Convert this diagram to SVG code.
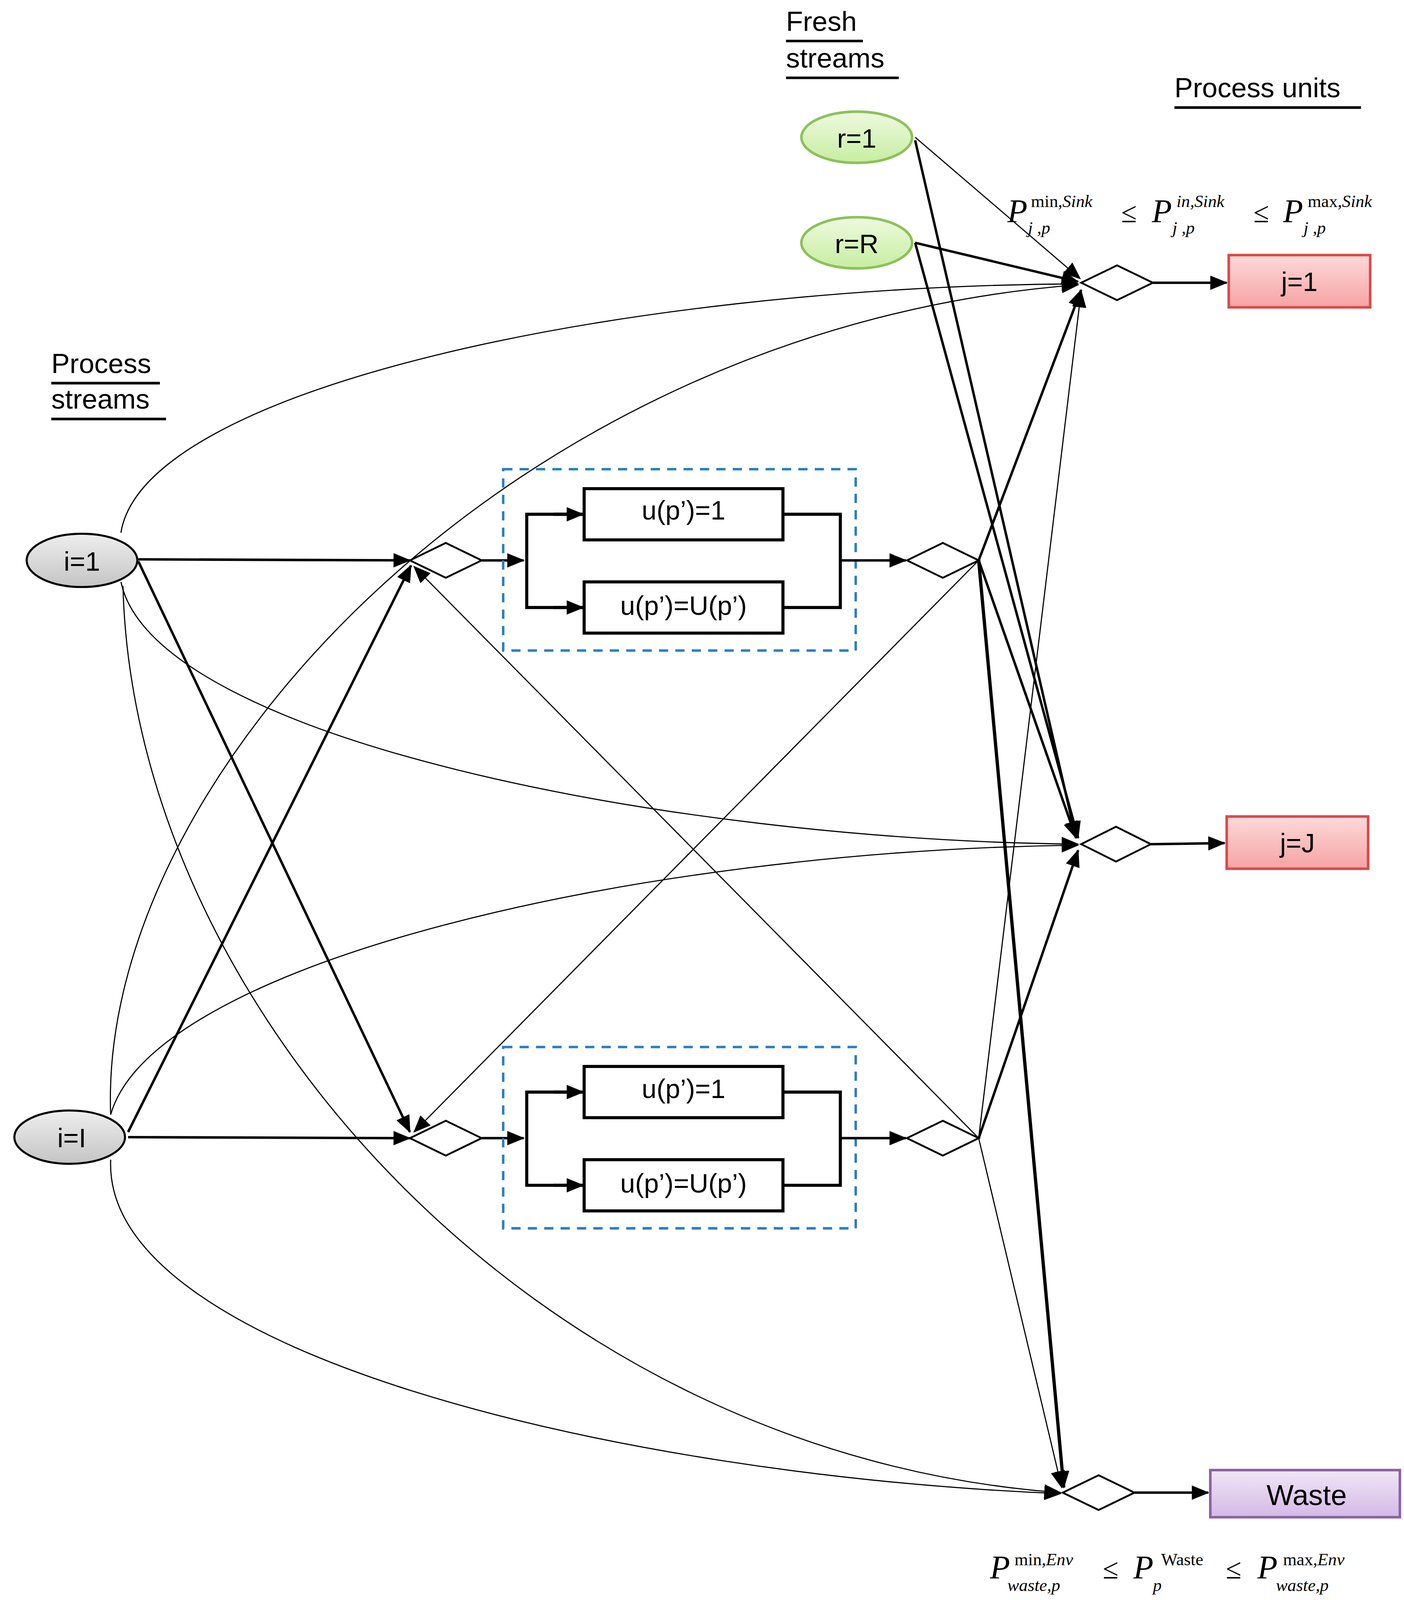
<svg xmlns="http://www.w3.org/2000/svg" width="3593" height="4110" viewBox="0 0 3593 4110">
<style>
.lbl{font-family:"Liberation Sans",Arial,sans-serif;font-size:26px;fill:#000}
.hd{font-family:"Liberation Sans",Arial,sans-serif;font-size:27px;fill:#000}
.m{font-family:"Liberation Serif","Times New Roman",serif;font-style:italic;fill:#000}
.mr{font-family:"Liberation Serif","Times New Roman",serif;fill:#000}
.thin{fill:none;stroke:#000;stroke-width:1.1}
.thick{fill:none;stroke:#000;stroke-width:2.4}
.dia{fill:#fff;stroke:#000;stroke-width:1.8}
.box{fill:#fff;stroke:#000;stroke-width:3}
.wire{fill:none;stroke:#000;stroke-width:3}
.dash{fill:none;stroke:#2a7fc1;stroke-width:2.4;stroke-dasharray:9,7}
.ul{stroke:#000;stroke-width:2.5}
</style>
<defs>
<marker id="ar" markerUnits="userSpaceOnUse" markerWidth="18" markerHeight="16" refX="16" refY="7" orient="auto"><path d="M0,0 L17,7 L0,14 Z" fill="#000"/></marker>
<linearGradient id="gG" x1="0" y1="0" x2="0" y2="1"><stop offset="0" stop-color="#eefadf"/><stop offset="1" stop-color="#c6eda0"/></linearGradient>
<linearGradient id="gR" x1="0" y1="0" x2="0" y2="1"><stop offset="0" stop-color="#fdd9d9"/><stop offset="1" stop-color="#f6a3a3"/></linearGradient>
<linearGradient id="gP" x1="0" y1="0" x2="0" y2="1"><stop offset="0" stop-color="#f1e6f7"/><stop offset="1" stop-color="#d3b9e6"/></linearGradient>
<linearGradient id="gS" x1="0" y1="0" x2="0" y2="1"><stop offset="0" stop-color="#eeeeee"/><stop offset="1" stop-color="#c4c4c4"/></linearGradient>
</defs>
<rect width="3593" height="4110" fill="#fff"/>
<g transform="scale(2.6226)">
<g id="headings">
<text class="hd" x="767" y="30">Fresh</text><line class="ul" x1="767" y1="40" x2="842" y2="40"/>
<text class="hd" x="767" y="66">streams</text><line class="ul" x1="767" y1="76" x2="877" y2="76"/>
<text class="hd" x="1146" y="95">Process units</text><line class="ul" x1="1146" y1="105" x2="1328" y2="105"/>
<text class="hd" x="50" y="364">Process</text><line class="ul" x1="50" y1="374" x2="156" y2="374"/>
<text class="hd" x="50" y="399">streams</text><line class="ul" x1="50" y1="409" x2="162" y2="409"/>
</g>
<g id="connectors">
<!-- fresh streams -->
<line class="thin" x1="893" y1="134" x2="1054" y2="272" marker-end="url(#ar)"/>
<line class="thick" x1="893" y1="137" x2="1050" y2="818" marker-end="url(#ar)"/>
<line class="thick" x1="893" y1="237" x2="1052" y2="275" marker-end="url(#ar)"/>
<line class="thick" x1="893" y1="237" x2="1052" y2="818" marker-end="url(#ar)"/>
<!-- i=1 -->
<line class="thick" x1="135" y1="546" x2="400" y2="547" marker-end="url(#ar)"/>
<path class="thin" d="M118,520 C140,380 600,280 1052,277" marker-end="url(#ar)"/>
<path class="thin" d="M118,568 C150,720 650,820 1052,824" marker-end="url(#ar)"/>
<path class="thin" d="M120,572 C130,980 520,1420 1035,1457" marker-end="url(#ar)"/>
<line class="thick" x1="135" y1="548" x2="400" y2="1105" marker-end="url(#ar)"/>
<!-- i=I -->
<line class="thick" x1="125" y1="1110" x2="400" y2="1111" marker-end="url(#ar)"/>
<path class="thin" d="M108,1088 C95,760 500,320 1052,278" marker-end="url(#ar)"/>
<path class="thin" d="M108,1088 C150,940 620,830 1052,825" marker-end="url(#ar)"/>
<path class="thin" d="M108,1132 C100,1320 600,1440 1035,1458" marker-end="url(#ar)"/>
<line class="thick" x1="125" y1="1105" x2="401" y2="552" marker-end="url(#ar)"/>
<!-- cross -->
<line class="thin" x1="955" y1="547" x2="404" y2="1105" marker-end="url(#ar)"/>
<line class="thin" x1="955" y1="1111" x2="404" y2="553" marker-end="url(#ar)"/>
<!-- from process units -->
<line class="thick" x1="955" y1="547" x2="1055" y2="283" marker-end="url(#ar)"/>
<line class="thick" x1="955" y1="547" x2="1050" y2="818" marker-end="url(#ar)"/>
<line class="thick" x1="955" y1="547" x2="1038" y2="1452" marker-end="url(#ar)" style="stroke-width:3.2"/>
<line class="thin" x1="955" y1="1111" x2="1055" y2="284" marker-end="url(#ar)"/>
<line class="thick" x1="955" y1="1111" x2="1052" y2="830" marker-end="url(#ar)"/>
<line class="thin" x1="955" y1="1111" x2="1036" y2="1452" marker-end="url(#ar)"/>
<!-- mixer outputs -->
<line class="thick" x1="1125" y1="276" x2="1197" y2="276" marker-end="url(#ar)"/>
<line class="thick" x1="1123" y1="824" x2="1195" y2="823" marker-end="url(#ar)"/>
<line class="thick" x1="1107" y1="1457" x2="1179" y2="1457" marker-end="url(#ar)"/>
</g>
<g id="r1"><ellipse cx="836" cy="134" rx="54" ry="25" fill="url(#gG)" stroke="#8cc15a" stroke-width="2.5"/><text class="lbl" x="836" y="144" text-anchor="middle">r=1</text></g>
<g id="rR"><ellipse cx="836" cy="237" rx="54" ry="25" fill="url(#gG)" stroke="#8cc15a" stroke-width="2.5"/><text class="lbl" x="836" y="247" text-anchor="middle">r=R</text></g>
<g id="i1"><ellipse cx="80" cy="547" rx="54" ry="26" fill="url(#gS)" stroke="#000" stroke-width="2"/><text class="lbl" x="80" y="557" text-anchor="middle">i=1</text></g>
<g id="iI"><ellipse cx="68" cy="1110" rx="54" ry="26" fill="url(#gS)" stroke="#000" stroke-width="2"/><text class="lbl" x="70" y="1120" text-anchor="middle">i=I</text></g>
<g id="j1"><rect x="1199" y="249" width="138" height="51" fill="url(#gR)" stroke="#d94a4a" stroke-width="2.5"/><text class="lbl" x="1268" y="284" text-anchor="middle">j=1</text></g>
<g id="jJ"><rect x="1197" y="797" width="138" height="51" fill="url(#gR)" stroke="#d94a4a" stroke-width="2.5"/><text class="lbl" x="1266" y="832" text-anchor="middle">j=J</text></g>
<g id="waste"><rect x="1181" y="1435" width="185" height="46" fill="url(#gP)" stroke="#8a62a6" stroke-width="2.5"/><text class="lbl" x="1275" y="1469" text-anchor="middle" style="font-size:28px">Waste</text></g>
<g id="mixers">
<path class="dia" d="M1055,276 L1090,259 L1125,276 L1090,293 Z"/>
<path class="dia" d="M1055,824 L1089,807 L1123,824 L1089,841 Z"/>
<path class="dia" d="M1037,1457 L1072,1440 L1107,1457 L1072,1474 Z"/>
</g>
<g id="unit1">
<path class="dia" d="M400,547 L435,530 L470,547 L435,564 Z"/>
<line class="thick" x1="470" y1="547" x2="511" y2="547" marker-end="url(#ar)"/>
<rect class="dash" x="491" y="458" width="344" height="177"/>
<path class="wire" d="M568,502 L514,502 L514,593 L568,593"/>
<line x1="540" y1="502" x2="569" y2="502" stroke="#000" stroke-width="3" marker-end="url(#ar)"/>
<line x1="540" y1="593" x2="569" y2="593" stroke="#000" stroke-width="3" marker-end="url(#ar)"/>
<rect class="box" x="570" y="477" width="194" height="50"/><text class="lbl" x="667" y="507" text-anchor="middle">u(p’)=1</text>
<rect class="box" x="570" y="568" width="194" height="50"/><text class="lbl" x="667" y="600" text-anchor="middle">u(p’)=U(p’)</text>
<path class="wire" d="M764,502 L820,502 L820,593 L764,593"/>
<line class="thick" x1="820" y1="547" x2="884" y2="547" marker-end="url(#ar)"/>
<path class="dia" d="M885,547 L920,530 L955,547 L920,564 Z"/>
</g>
<g id="unit2">
<path class="dia" d="M400,1111 L435,1094 L470,1111 L435,1128 Z"/>
<line class="thick" x1="470" y1="1111" x2="511" y2="1111" marker-end="url(#ar)"/>
<rect class="dash" x="491" y="1022" width="344" height="177"/>
<path class="wire" d="M568,1066 L514,1066 L514,1157 L568,1157"/>
<line x1="540" y1="1066" x2="569" y2="1066" stroke="#000" stroke-width="3" marker-end="url(#ar)"/>
<line x1="540" y1="1157" x2="569" y2="1157" stroke="#000" stroke-width="3" marker-end="url(#ar)"/>
<rect class="box" x="570" y="1041" width="194" height="50"/><text class="lbl" x="667" y="1072" text-anchor="middle">u(p’)=1</text>
<rect class="box" x="570" y="1132" width="194" height="50"/><text class="lbl" x="667" y="1164" text-anchor="middle">u(p’)=U(p’)</text>
<path class="wire" d="M764,1066 L820,1066 L820,1157 L764,1157"/>
<line class="thick" x1="820" y1="1111" x2="884" y2="1111" marker-end="url(#ar)"/>
<path class="dia" d="M885,1111 L920,1094 L955,1111 L920,1128 Z"/>
</g>
<g id="formula-sink">
<text class="m" x="983" y="217" font-size="32">P</text>
<text class="mr" x="1006" y="202" font-size="17">min,<tspan class="m">Sink</tspan></text>
<text class="m" x="1003" y="228" font-size="17">j ,p</text>
<text class="mr" x="1094" y="217" font-size="28">≤</text>
<text class="m" x="1124" y="217" font-size="32">P</text>
<text class="m" x="1148" y="202" font-size="17">in,Sink</text>
<text class="m" x="1144" y="228" font-size="17">j ,p</text>
<text class="mr" x="1223" y="217" font-size="28">≤</text>
<text class="m" x="1252" y="217" font-size="32">P</text>
<text class="mr" x="1276" y="202" font-size="17">max,<tspan class="m">Sink</tspan></text>
<text class="m" x="1272" y="228" font-size="17">j ,p</text>
</g>
<g id="formula-waste">
<text class="m" x="966" y="1541" font-size="32">P</text>
<text class="mr" x="990" y="1528" font-size="17">min,<tspan class="m">Env</tspan></text>
<text class="m" x="983" y="1553" font-size="17">waste,p</text>
<text class="mr" x="1076" y="1541" font-size="28">≤</text>
<text class="m" x="1106" y="1541" font-size="32">P</text>
<text class="mr" x="1133" y="1528" font-size="17">Waste</text>
<text class="m" x="1125" y="1553" font-size="17">p</text>
<text class="mr" x="1196" y="1541" font-size="28">≤</text>
<text class="m" x="1227" y="1541" font-size="32">P</text>
<text class="mr" x="1252" y="1528" font-size="17">max,<tspan class="m">Env</tspan></text>
<text class="m" x="1245" y="1553" font-size="17">waste,p</text>
</g>
</g>
</svg>
